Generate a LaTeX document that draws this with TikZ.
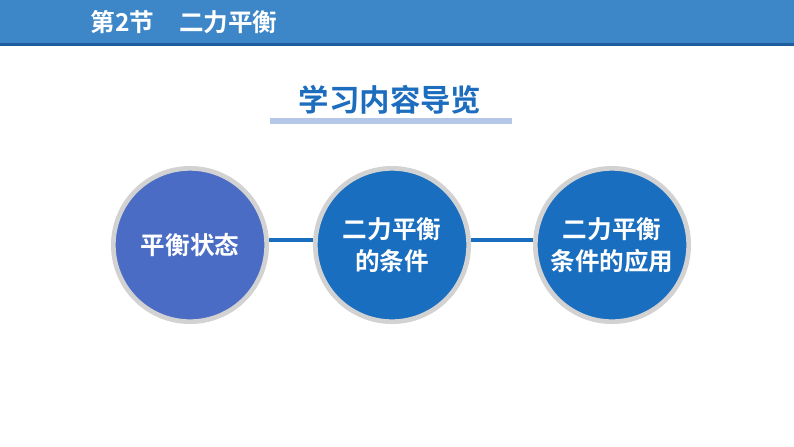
\documentclass[tikz,border=0pt]{standalone}
\usepackage{fontspec}
\setmainfont{Noto Sans CJK SC}
\newfontfamily\cjkbold{Noto Sans CJK SC Bold}
\usetikzlibrary{positioning}
\definecolor{barblue}{HTML}{3D87C8}
\definecolor{bardark}{HTML}{1F5E9E}
\definecolor{titleblue}{HTML}{1C6DBE}
\definecolor{lineblue}{HTML}{B4C7E7}
\definecolor{firstblue}{HTML}{4A6CC4}
\definecolor{mainblue}{HTML}{1A6EBF}
\tikzset{
  stage/.style = {circle, fill=#1, minimum size=4.6cm, inner sep=0pt, text=white,
    align=center, font=\cjkbold\fontsize{21}{27}\selectfont, draw=gray!35, line width=4pt},
  link/.style = {draw=mainblue, line width=3pt}
}
\begin{document}
\begin{tikzpicture}
	\useasboundingbox (0,0) rectangle (23.82,-13.38);
	\fill [barblue] (0,0) rectangle (23.82,-1.29);
	\fill [bardark] (0,-1.29) rectangle (23.82,-1.38);
	\node [anchor=west, text=white, font=\cjkbold\fontsize{21}{24}\selectfont] (head) at (2.6,-0.66) {第2节\quad 二力平衡};
	\node [text=titleblue, font=\cjkbold\fontsize{26}{30}\selectfont] (title) at (11.7,-3.0) {学习内容导览};
	\fill [lineblue] (8.1,-3.55) rectangle (15.36,-3.72);
	\node [stage=firstblue] (state) at (5.7,-7.35) {平衡状态};
	\node [stage=mainblue] (cond) at (11.76,-7.35) {二力平衡\\的条件};
	\node [stage=mainblue] (apply) at (18.36,-7.35) {二力平衡\\条件的应用};
	\draw [link] (state.east |- 0,-7.2) -- (cond.west |- 0,-7.2);
	\draw [link] (cond.east |- 0,-7.2) -- (apply.west |- 0,-7.2);
\end{tikzpicture}
\end{document}
